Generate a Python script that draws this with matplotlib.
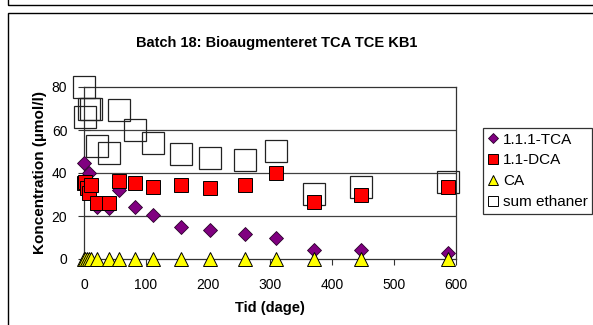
import matplotlib
matplotlib.use("Agg")
import matplotlib.pyplot as plt
from matplotlib.lines import Line2D
from matplotlib.patches import Rectangle
import numpy as np

plt.rcParams['font.family'] = ['Liberation Sans', 'DejaVu Sans']

title = "Batch 18: Bioaugmenteret TCA TCE KB1"
xlabel = "Tid (dage)"
ylabel = "Koncentration (µmol/l)"

# 1.1.1-TCA
tca_days = [0, 2, 5, 8, 12, 21, 41, 56, 83, 112, 157, 203, 259, 310, 371, 447, 587]
tca_vals = [44.8, 37.0, 33.0, 39.8, 34.0, 24.0, 23.5, 32.0, 24.2, 20.5, 15.0, 13.5, 11.6, 9.9, 4.2, 4.2, 2.9]
# 1.1-DCA
dca_days = [0, 2, 5, 8, 12, 21, 41, 56, 83, 112, 157, 203, 259, 310, 371, 447, 587]
dca_vals = [35.5, 36.0, 32.9, 30.5, 34.4, 25.9, 25.9, 36.4, 35.5, 33.6, 34.3, 33.2, 34.3, 40.1, 26.4, 29.8, 33.6]
# CA
ca_days = [0, 2, 5, 8, 12, 21, 41, 56, 83, 112, 157, 203, 259, 310, 371, 447, 587]
ca_vals = [0, 0, 0, 0, 0, 0, 0, 0, 0, 0, 0, 0, 0, 0, 0, 0, 0]
# sum ethaner
sum_days = [0, 2, 8, 12, 21, 41, 56, 83, 112, 157, 203, 259, 310, 371, 447, 587]
sum_vals = [80.0, 66.0, 70.0, 69.6, 52.4, 49.4, 69.3, 59.8, 54.0, 49.0, 46.8, 46.0, 50.2, 30.4, 33.6, 35.8]

xticks = [0, 100, 200, 300, 400, 500, 600]
yticks = [0, 20, 40, 60, 80]

W, H = 593, 325
fig = plt.figure(figsize=(W / 100, H / 100), dpi=100)
fig.patch.set_facecolor('white')

# frames
fig.add_artist(Rectangle((8 / W, -0.05), 1.2, (H - 13) / H + 0.05, transform=fig.transFigure,
                         fill=False, edgecolor='black', linewidth=1.0))
fig.add_artist(Rectangle((8 / W, (H - 5) / H), 1.2, 0.2, transform=fig.transFigure,
                         fill=False, edgecolor='black', linewidth=1.0))

ax = fig.add_axes([84 / W, (H - 259) / H, (456 - 84) / W, (259 - 87) / H])
ax.set_xlim(0, 600)
ax.set_ylim(0, 80)

for y in [20, 40, 60]:
    ax.axhline(y, color='#404040', linewidth=0.9, zorder=1)

ax.plot(sum_days, sum_vals, linestyle='none', marker='s', markersize=16.5,
        markerfacecolor='none', markeredgecolor='#222222', markeredgewidth=0.9,
        clip_on=False, zorder=3)
ax.plot(tca_days, tca_vals, linestyle='none', marker='D', markersize=7,
        markerfacecolor='#800080', markeredgecolor='#2a002a', markeredgewidth=0.6,
        clip_on=False, zorder=4)
ax.plot(dca_days, dca_vals, linestyle='none', marker='s', markersize=10.3,
        markerfacecolor='#FF0000', markeredgecolor='#000000', markeredgewidth=0.7,
        clip_on=False, zorder=5)
ax.plot(ca_days, ca_vals, linestyle='none', marker='^', markersize=9.6,
        markerfacecolor='#FFFF00', markeredgecolor='#000000', markeredgewidth=0.7,
        clip_on=False, zorder=6)

for s in ax.spines.values():
    s.set_color('#333333')
    s.set_linewidth(0.9)

ax.set_xticks(xticks)
ax.set_yticks(yticks)
ax.tick_params(axis='x', direction='out', length=4, width=0.8, pad=10, labelsize=10, color='#333333')
ax.tick_params(axis='y', direction='inout', length=8, width=0.8, pad=8, labelsize=10, color='#333333')

fig.text(277 / W, 1 - 43 / H, title, ha='center', va='center', fontsize=10.5, fontweight='bold')
fig.text(270 / W, 1 - 308 / H, xlabel, ha='center', va='center', fontsize=10.5, fontweight='bold')
fig.text(40 / W, 1 - 173 / H, ylabel, ha='center', va='center', fontsize=11, fontweight='bold',
         rotation=90)

handles = [
    Line2D([], [], linestyle='none', marker='D', markersize=5.5, markerfacecolor='#800080',
           markeredgecolor='#2a002a', markeredgewidth=0.6),
    Line2D([], [], linestyle='none', marker='s', markersize=7, markerfacecolor='#FF0000',
           markeredgecolor='black', markeredgewidth=0.7),
    Line2D([], [], linestyle='none', marker='^', markersize=7, markerfacecolor='#FFFF00',
           markeredgecolor='black', markeredgewidth=0.7),
    Line2D([], [], linestyle='none', marker='s', markersize=7, markerfacecolor='white',
           markeredgecolor='black', markeredgewidth=0.7),
]
labels = ["1.1.1-TCA", "1.1-DCA", "CA", "sum ethaner"]
leg = fig.legend(handles, labels, loc='upper left', bbox_to_anchor=(483 / W, 1 - 128 / H),
                 frameon=True, fancybox=False, edgecolor='black', fontsize=11,
                 handlelength=0.7, handletextpad=0.3, borderpad=0.3, labelspacing=0.45,
                 borderaxespad=0)
leg.get_frame().set_linewidth(0.9)

fig.savefig("out.png", dpi=100)
